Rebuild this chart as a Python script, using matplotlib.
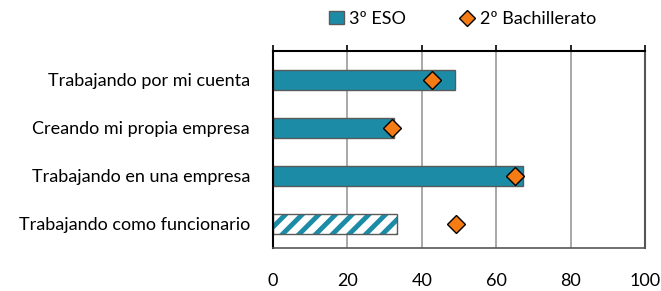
import numpy as np
import matplotlib.pyplot as plt
from matplotlib.lines import Line2D
from matplotlib.patches import Patch

# datos
categorias = ['Trabajando por mi cuenta', 'Creando mi propia empresa',
              'Trabajando en una empresa', 'Trabajando como funcionario']
eso = [48.9, 32.5, 67.1, 33.4]
bachillerato = [42.6, 32.1, 65.0, 49.2]
ticks_x = [0, 20, 40, 60, 80, 100]

azul = '#1B8BA6'
naranja = '#F57C14'
gris = '#5a5a5a'

plt.rcParams['font.family'] = ['Lato', 'DejaVu Sans']
plt.rcParams['hatch.linewidth'] = 3.5

fig = plt.figure(figsize=(6.61, 2.91), dpi=100)
ax = fig.add_axes([0.413, 0.148, 0.563, 0.677])

y = np.arange(len(categorias))
bars = ax.barh(y[:-1], eso[:-1], height=0.41, color=azul, edgecolor=gris,
               linewidth=1.0, zorder=2)
# la ultima barra va rayada (el rayado toma el color del borde)
ax.barh(y[-1], eso[-1], height=0.41, color='white', edgecolor=azul,
        hatch='//', linewidth=0, zorder=2)
ax.barh(y[-1], eso[-1], height=0.41, fill=False, edgecolor=gris,
        linewidth=1.0, zorder=2)

ax.plot(bachillerato, y, 'D', color=naranja, markeredgecolor='black',
        markeredgewidth=1.0, markersize=9.5, zorder=3, linestyle='none')

ax.set_xlim(0, 100)
ax.set_ylim(3.5, -0.6)
ax.set_xticks(ticks_x)
ax.set_yticks(y)
ax.set_yticklabels(categorias, fontsize=13)
ax.grid(axis='x', color='#9a9a9a', linewidth=1.2, zorder=0)
ax.set_axisbelow(True)

ax.tick_params(axis='x', bottom=False, top=True, labelbottom=True,
               labeltop=False, direction='out', length=4, width=1.2,
               labelsize=13, pad=14)
ax.tick_params(axis='y', left=False, pad=13)

for s in ['top', 'left']:
    ax.spines[s].set_color('black')
    ax.spines[s].set_linewidth(1.5)
ax.spines['bottom'].set_color('#555555')
ax.spines['bottom'].set_linewidth(1.2)
ax.spines['right'].set_color('#555555')
ax.spines['right'].set_linewidth(1.5)

handles = [Patch(facecolor=azul, edgecolor=gris, label='3º ESO'),
           Line2D([], [], marker='D', color=naranja, markeredgecolor='black',
                  linestyle='none', markersize=8, label='2º Bachillerato')]
fig.legend(handles=handles, loc='center', bbox_to_anchor=(0.70, 0.935),
           ncol=2, frameon=False, fontsize=13, handlelength=0.8,
           handletextpad=0.3, columnspacing=3.0)

fig.savefig('out.png', dpi=100)
